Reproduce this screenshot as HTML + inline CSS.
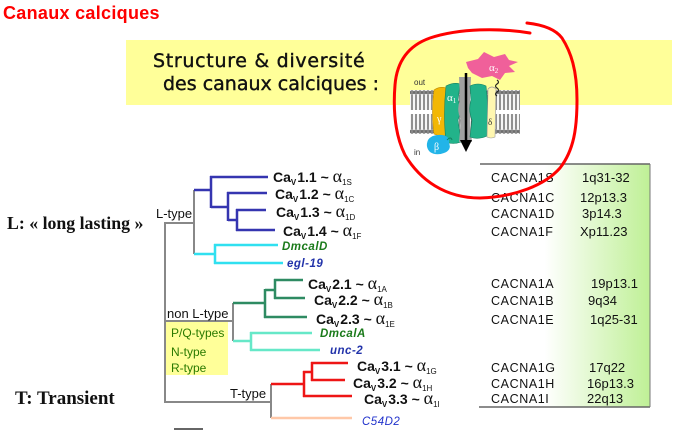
<!DOCTYPE html>
<html>
<head>
<meta charset="utf-8">
<style>
html,body{margin:0;padding:0;background:#fff;}
body{width:677px;height:439px;overflow:hidden;}
svg{display:block;}
</style>
</head>
<body>
<svg width="677" height="439" viewBox="0 0 677 439" xmlns="http://www.w3.org/2000/svg">
<defs>
  <linearGradient id="tg" x1="0" y1="0" x2="1" y2="0">
    <stop offset="0" stop-color="#ffffff"/>
    <stop offset="0.38" stop-color="#ffffff"/>
    <stop offset="1" stop-color="#bff096"/>
  </linearGradient>
  <pattern id="lip" x="410" y="90" width="4" height="44" patternUnits="userSpaceOnUse">
    <rect width="4" height="44" fill="#fff"/>
    <circle cx="2" cy="2.5" r="1.9" fill="#888" stroke="#444" stroke-width="0.5"/>
    <circle cx="2" cy="41.5" r="1.9" fill="#888" stroke="#444" stroke-width="0.5"/>
    <line x1="1.3" y1="5" x2="1.3" y2="20" stroke="#555" stroke-width="0.7"/>
    <line x1="2.7" y1="5" x2="2.7" y2="20" stroke="#555" stroke-width="0.7"/>
    <line x1="1.3" y1="24" x2="1.3" y2="39" stroke="#555" stroke-width="0.7"/>
    <line x1="2.7" y1="24" x2="2.7" y2="39" stroke="#555" stroke-width="0.7"/>
  </pattern>
</defs>

<!-- Title -->
<text x="3" y="19" font-family="Liberation Sans, sans-serif" font-weight="bold" font-size="18" fill="#ff0000" letter-spacing="0.3">Canaux calciques</text>

<!-- Yellow banner -->
<rect x="126" y="40" width="546" height="65" fill="#ffff99"/>
<text x="153" y="67" font-family="DejaVu Sans, sans-serif" font-size="19" fill="#111" stroke="#111" stroke-width="0.4" letter-spacing="0.7">Structure &amp; diversité</text>
<text x="163" y="90" font-family="DejaVu Sans, sans-serif" font-size="19" fill="#111" stroke="#111" stroke-width="0.4" letter-spacing="0">des canaux calciques :</text>

<!-- Table -->
<rect x="480" y="164" width="170" height="243" fill="url(#tg)"/>
<line x1="480" y1="164" x2="650" y2="164" stroke="#666" stroke-width="1.5"/>
<line x1="479" y1="407" x2="650" y2="407" stroke="#666" stroke-width="1.5"/>
<line x1="650" y1="164" x2="650" y2="407" stroke="#777" stroke-width="1"/>

<g font-family="Liberation Sans, sans-serif" font-size="12.5" fill="#111" letter-spacing="0.6">
  <text x="491" y="182">CACNA1S</text>
  <text x="491" y="202">CACNA1C</text>
  <text x="491" y="218">CACNA1D</text>
  <text x="491" y="236">CACNA1F</text>
  <text x="491" y="288">CACNA1A</text>
  <text x="491" y="305">CACNA1B</text>
  <text x="491" y="324">CACNA1E</text>
  <text x="491" y="372">CACNA1G</text>
  <text x="491" y="388">CACNA1H</text>
  <text x="491" y="403">CACNA1I</text>
</g>
<g font-family="Liberation Sans, sans-serif" font-size="13" fill="#111">
  <text x="582" y="182">1q31-32</text>
  <text x="580" y="202">12p13.3</text>
  <text x="582" y="218">3p14.3</text>
  <text x="580" y="236">Xp11.23</text>
  <text x="591" y="288">19p13.1</text>
  <text x="588" y="305">9q34</text>
  <text x="590" y="324">1q25-31</text>
  <text x="589" y="372">17q22</text>
  <text x="587" y="388">16p13.3</text>
  <text x="587" y="403">22q13</text>
</g>

<!-- Left labels -->
<text x="7" y="229" font-family="Liberation Serif, serif" font-weight="bold" font-size="17.8" fill="#111">L: « long lasting »</text>
<text x="15" y="404" font-family="Liberation Serif, serif" font-weight="bold" font-size="19" fill="#111">T: Transient</text>

<!-- Tree gray -->
<g stroke="#888" stroke-width="2" fill="none">
  <path d="M165,223 H194 M194,190 V254 M165,222 V403 M165,321 H233 M233,303 V341 M164,402 H271 M271,384 V418"/>
</g>
<!-- blue -->
<g stroke="#3535b0" stroke-width="2.5" fill="none">
  <path d="M194,190 H211 M211,176 V208 M210,177 H268 M211,207 H228 M228,192 V221 M227,193 H267 M228,220 H237 M237,209 V231 M236,210 H266 M236,230 H275"/>
</g>
<!-- cyan -->
<g stroke="#30e0f0" stroke-width="2.5" fill="none">
  <path d="M194,254 H215 M215,244 V264 M214,245 H278 M214,263 H283"/>
</g>
<!-- dark green -->
<g stroke="#2e8b62" stroke-width="2.5" fill="none">
  <path d="M233,303 H265 M265,289 V318 M264,317 H307 M265,290 H275 M275,279 V299 M274,280 H303 M274,298 H305"/>
</g>
<!-- aquamarine -->
<g stroke="#66e8c8" stroke-width="2.5" fill="none">
  <path d="M233,341 H251 M251,332 V351 M250,333 H312 M250,350 H320"/>
</g>
<!-- red -->
<g stroke="#ee1515" stroke-width="2.5" fill="none">
  <path d="M271,384 H304 M304,371 V397 M303,372 H312 M312,362 V381 M311,363 H348 M311,380 H345 M303,396 H352"/>
</g>
<!-- peach -->
<line x1="271" y1="418" x2="352" y2="418" stroke="#ffc8a8" stroke-width="2.5"/>
<!-- scale bar -->
<line x1="174" y1="429" x2="203" y2="429" stroke="#333" stroke-width="1.5"/>

<!-- Yellow subtype box -->
<rect x="166" y="322" width="62" height="53" fill="#ffff99"/>
<g font-family="Liberation Sans, sans-serif" font-size="12" fill="#2a7a00">
  <text x="171" y="337">P/Q-types</text>
  <text x="171" y="356">N-type</text>
  <text x="171" y="372">R-type</text>
</g>

<!-- type labels -->
<g font-family="Liberation Sans, sans-serif" font-size="13" fill="#111">
  <text x="156" y="218">L-type</text>
  <text x="167" y="318">non L-type</text>
  <text x="230" y="398">T-type</text>
</g>

<!-- Cav labels -->
<g font-family="Liberation Sans, sans-serif" font-weight="bold" font-size="14" fill="#111">
  <text x="273" y="182">Ca<tspan font-size="8" dy="3">V</tspan><tspan dy="-3" dx="1">1.1 ~ </tspan><tspan font-family="Liberation Serif, serif" font-weight="normal" font-size="18">α</tspan><tspan font-size="8" font-weight="normal" dy="3">1S</tspan></text>
  <text x="275" y="199">Ca<tspan font-size="8" dy="3">V</tspan><tspan dy="-3" dx="1">1.2 ~ </tspan><tspan font-family="Liberation Serif, serif" font-weight="normal" font-size="18">α</tspan><tspan font-size="8" font-weight="normal" dy="3">1C</tspan></text>
  <text x="276" y="217">Ca<tspan font-size="8" dy="3">V</tspan><tspan dy="-3" dx="1">1.3 ~ </tspan><tspan font-family="Liberation Serif, serif" font-weight="normal" font-size="18">α</tspan><tspan font-size="8" font-weight="normal" dy="3">1D</tspan></text>
  <text x="283" y="236">Ca<tspan font-size="8" dy="3">V</tspan><tspan dy="-3" dx="1">1.4 ~ </tspan><tspan font-family="Liberation Serif, serif" font-weight="normal" font-size="18">α</tspan><tspan font-size="8" font-weight="normal" dy="3">1F</tspan></text>
  <text x="308" y="289">Ca<tspan font-size="8" dy="3">V</tspan><tspan dy="-3" dx="1">2.1 ~ </tspan><tspan font-family="Liberation Serif, serif" font-weight="normal" font-size="18">α</tspan><tspan font-size="8" font-weight="normal" dy="3">1A</tspan></text>
  <text x="314" y="305">Ca<tspan font-size="8" dy="3">V</tspan><tspan dy="-3" dx="1">2.2 ~ </tspan><tspan font-family="Liberation Serif, serif" font-weight="normal" font-size="18">α</tspan><tspan font-size="8" font-weight="normal" dy="3">1B</tspan></text>
  <text x="316" y="324">Ca<tspan font-size="8" dy="3">V</tspan><tspan dy="-3" dx="1">2.3 ~ </tspan><tspan font-family="Liberation Serif, serif" font-weight="normal" font-size="18">α</tspan><tspan font-size="8" font-weight="normal" dy="3">1E</tspan></text>
  <text x="357" y="371">Ca<tspan font-size="8" dy="3">V</tspan><tspan dy="-3" dx="1">3.1 ~ </tspan><tspan font-family="Liberation Serif, serif" font-weight="normal" font-size="18">α</tspan><tspan font-size="8" font-weight="normal" dy="3">1G</tspan></text>
  <text x="353" y="388">Ca<tspan font-size="8" dy="3">V</tspan><tspan dy="-3" dx="1">3.2 ~ </tspan><tspan font-family="Liberation Serif, serif" font-weight="normal" font-size="18">α</tspan><tspan font-size="8" font-weight="normal" dy="3">1H</tspan></text>
  <text x="364" y="404">Ca<tspan font-size="8" dy="3">V</tspan><tspan dy="-3" dx="1">3.3 ~ </tspan><tspan font-family="Liberation Serif, serif" font-weight="normal" font-size="18">α</tspan><tspan font-size="8" font-weight="normal" dy="3">1I</tspan></text>
</g>
<g font-family="Liberation Sans, sans-serif" font-style="italic" font-size="11.5" letter-spacing="0.5">
  <text x="282" y="250" fill="#1a7a1a" font-weight="bold">DmcalD</text>
  <text x="287" y="267" fill="#2233aa" font-weight="bold">egl-19</text>
  <text x="320" y="337" fill="#1a7a1a" font-weight="bold">DmcalA</text>
  <text x="330" y="354" fill="#2233aa" font-weight="bold">unc-2</text>
  <text x="362" y="425" fill="#2233cc">C54D2</text>
</g>

<!-- Membrane illustration -->
<rect x="410" y="90" width="110" height="44" fill="url(#lip)"/>
<text x="414" y="85" font-family="Liberation Sans, sans-serif" font-size="8" fill="#333">out</text>
<text x="414" y="155" font-family="Liberation Sans, sans-serif" font-size="8" fill="#333">in</text>
<!-- gamma -->
<path d="M434,90 Q440,86 446,88 L446,135 Q440,137 434,134 Q431,112 434,90 Z" fill="#f2b705" stroke="#c08a00" stroke-width="0.6"/>
<text x="437" y="122" font-family="Liberation Serif, serif" font-size="10" fill="#fff">γ</text>
<!-- alpha1 left -->
<path d="M446,86 Q454,82 460,84 L458,100 Q462,110 458,120 L461,142 Q453,145 446,142 Q443,115 446,86 Z" fill="#22b38a" stroke="#148060" stroke-width="0.6"/>
<text x="447" y="101" font-family="Liberation Serif, serif" font-size="11" fill="#fff">α<tspan font-size="7" dy="2">1</tspan></text>
<!-- pore -->
<path d="M459,77 L471,77 L470,100 Q473,110 470,120 L472,142 L459,142 L461,120 Q456,110 460,100 Z" fill="#a0a0a0"/>
<!-- alpha1 right -->
<path d="M470,86 Q478,82 486,86 Q489,112 487,136 Q478,140 470,137 L472,120 Q468,110 471,100 Z" fill="#22b38a" stroke="#148060" stroke-width="0.6"/>
<!-- arrow -->
<line x1="466" y1="73" x2="466" y2="142" stroke="#000" stroke-width="2.5"/>
<polygon points="460,140 472,140 466,152" fill="#000"/>
<!-- delta -->
<path d="M488,89 Q492,85 496,89 L495,137 Q491,139 487,137 Z" fill="#fff7b0" stroke="#999" stroke-width="0.6"/>
<text x="488" y="125" font-family="Liberation Serif, serif" font-size="9" fill="#333">δ</text>
<!-- S-S -->
<path d="M497,80 q3,2 0,4 q-3,2 0,4 q3,2 0,4 q-3,2 0,4" stroke="#222" stroke-width="1.2" fill="none"/>
<!-- alpha2 -->
<path d="M466,62 L478,59 L484,52 L494,57 L505,54 L509,60 L518,62 L509,66 L515,72 L505,73 L500,80 L492,76 L482,78 L472,73 L468,68 Z" fill="#f0609a"/>
<text x="489" y="71" font-family="Liberation Serif, serif" font-size="11" fill="#fff">α<tspan font-size="7" dy="2">2</tspan></text>
<!-- beta -->
<path d="M428,140 Q432,134 442,135 Q450,136 449,143 Q452,150 444,153 Q436,156 430,152 Q425,147 428,140 Z" fill="#22b4e8"/>
<path d="M447,140 q4,-4 5,0" stroke="#148060" stroke-width="1" fill="none"/>
<text x="434" y="150" font-family="Liberation Serif, serif" font-size="10" fill="#fff">β</text>

<!-- Red hand-drawn circle -->
<path d="M527,23 C545,25 556,30 562,38 C571,52 577,70 577,100 C577,128 574,150 560,168 C545,185 515,197 480,198 C445,198 420,180 405,155 C395,135 393,110 395,85 C397,60 410,45 430,38 C460,28 500,28 530,33" fill="none" stroke="#ff0000" stroke-width="3" stroke-linecap="round"/>
</svg>
</body>
</html>
